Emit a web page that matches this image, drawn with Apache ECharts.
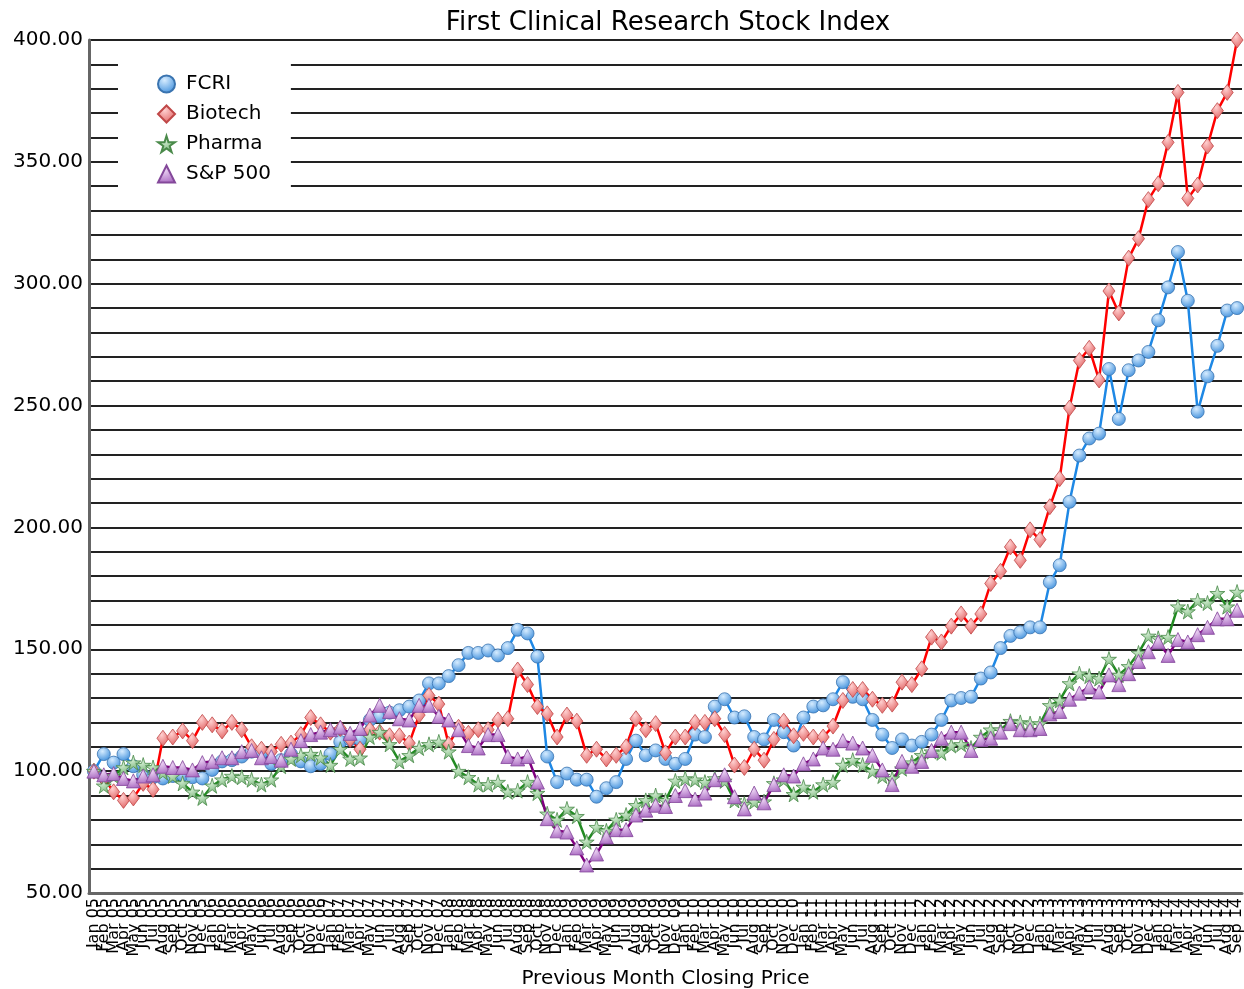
<!DOCTYPE html>
<html>
<head>
<meta charset="utf-8">
<title>First Clinical Research Stock Index</title>
<script src="https://cdn.jsdelivr.net/npm/echarts@6/dist/echarts.min.js"></script>
<style>
  html, body { margin: 0; padding: 0; background: #fff; }
  #myChart { width: 1244px; height: 989px; }
</style>
</head>
<body>
<div id="myChart"></div>
<script>
// month labels, Jan 05 .. Sep 14
const monthNames = ['Jan', 'Feb', 'Mar', 'Apr', 'May', 'Jun', 'Jul', 'Aug', 'Sep', 'Oct', 'Nov', 'Dec'];
const yearLabels = ['05', '06', '07', '08', '09', '10', '11', '12', '13', '14'];
const lastMonth = 'Sep 14';

const fcri = [
    100, 107, 103.5, 107, 102, 98.5, 97.5, 97, 98, 98.5, 97.5, 97,
    100.5, 104, 104.5, 106, 108, 107.5, 103, 104.5, 107, 104, 102, 103,
    107, 112, 113, 113, 121, 122.5, 124, 125, 126.5, 129, 136, 136,
    139, 143.5, 148.5, 148.5, 149.5, 147.5, 150.5, 158, 156.5, 147, 106, 95.5,
    99, 96.5, 96.5, 89.5, 93, 95.5, 105, 112.5, 106.5, 108.5, 105, 103,
    105, 115, 114, 126.5, 129.5, 122, 122.5, 114, 113, 121, 116, 110.5,
    122, 126.5, 127, 129.5, 136.5, 130.5, 129.5, 121, 115, 109.5, 113, 110.5,
    112, 115, 121, 129, 130, 130.5, 138, 140.5, 150.5, 155.5, 157, 159,
    159, 177.5, 184.5, 210.5, 229.5, 236.5, 238.5, 265, 244.5, 264.5, 268.5, 272,
    285, 298.5, 313, 293, 247.5, 262, 274.5, 289, 290
];
const biotech = [
    100, 97, 91.5, 88, 89, 95, 92.5, 113.5, 114, 116.5, 112.5, 120,
    119, 116.5, 120, 117, 110, 109, 108, 111, 111.5, 115, 122, 119,
    116, 117.5, 113, 109, 117, 116, 114.5, 114.5, 111.5, 123, 131, 127.5,
    111, 118, 115.5, 117, 117, 121, 121.5, 141.5, 135.5, 126.5, 123.5, 114,
    123, 120.5, 106.5, 109, 105, 106.5, 110, 121.5, 117, 119.5, 107.5, 114,
    114, 120, 120, 121.5, 115, 102.5, 101.5, 109, 104.5, 113, 120.5, 114.5,
    115.5, 114, 114, 118.5, 129, 133.5, 133.5, 129.5, 127, 127.5, 136.5, 135.5,
    142, 155, 153, 159.5, 164.5, 159.5, 164.5, 177, 182, 192, 186.5, 199,
    195, 208.5, 220, 249, 268.5, 273.5, 260.5, 297, 288, 310.5, 318.5, 334.5,
    341, 358, 378.5, 335, 340.5, 356.5, 371, 378.5, 400
];
const pharma = [
    100, 94, 98, 101.5, 103.5, 102.5, 101.5, 99.5, 98, 95, 91.5, 89,
    94, 96.5, 98, 97.5, 96.5, 94.5, 96.5, 102, 105, 106.5, 107, 105.5,
    102.5, 109, 105, 105.5, 114, 116, 111, 104, 106.5, 109.5, 111, 112,
    108, 100, 97.5, 94.5, 94.5, 95.5, 91.5, 92, 95.5, 91, 82.5, 80,
    84.5, 81.5, 71, 77, 75.5, 80, 82, 86, 88, 90, 88, 96,
    97, 96.5, 95.5, 97, 96, 88, 86.5, 87.5, 87.5, 95, 96.5, 90.5,
    93.5, 91.5, 94.5, 95.5, 102.5, 104.5, 102.5, 100, 98, 97, 101, 103.5,
    106.5, 108, 107.5, 110.5, 111, 109.5, 114, 117, 117, 120.5, 120, 119.5,
    119.5, 127, 129, 136, 140, 139, 138, 146, 139.5, 143, 148.5, 155.5,
    154.5, 155, 167.5, 165.5, 170, 169, 173, 167.5, 173.5
];
const sp500 = [
    100, 98.5, 99, 97, 96, 98, 98.5, 102, 101.5, 101.5, 100.5, 103.5,
    104, 105.5, 105.5, 108, 108.5, 105.5, 106, 104.5, 109, 112.5, 115, 116,
    117, 118, 115.5, 117.5, 123, 127, 124.5, 121.5, 121, 127, 127, 122.5,
    121, 117, 110.5, 109.5, 115, 115, 106, 105, 106, 95.5, 80.5, 75.5,
    75, 68.5, 61.5, 66, 73, 76, 76, 82, 84, 86, 85.5, 90,
    92, 88.5, 91, 96.5, 98.5, 89.5, 84.5, 91, 87, 94.5, 98.5, 98,
    103, 105, 109.5, 109, 112.5, 111.5, 109.5, 106.5, 100.5, 94.5, 104, 102,
    104, 108.5, 113.5, 116, 116, 108.5, 113, 113.5, 116, 119.5, 117, 117,
    117.5, 123.5, 124.5, 129.5, 132, 134.5, 132.5, 139.5, 135.5, 140, 145, 149,
    153, 147.5, 154, 153, 156, 159, 162.5, 162.5, 166
];

// build the month list
let categories = [];
for (let y of yearLabels) {
    for (let m of monthNames) {
        let label = m + ' ' + y;
        categories.push(label);
        if (label === lastMonth) break;
    }
}

const fontName = 'DejaVu Sans';
const starPath = 'path://M50,0 L61,35 L98,35 L68,57 L79,91 L50,70 L21,91 L32,57 L2,35 L39,35 Z';

function shade(light, dark) {
    return new echarts.graphic.RadialGradient(0.4, 0.3, 0.75, [
        { offset: 0, color: light },
        { offset: 1, color: dark }
    ]);
}

function makeSeries(name, data, lineColor, symbol, size, light, dark, border) {
    return {
        name: name,
        type: 'line',
        data: data,
        symbol: symbol,
        symbolSize: size,
        showAllSymbol: true,
        lineStyle: { color: lineColor, width: 2.5 },
        itemStyle: { color: shade(light, dark), borderColor: border, borderWidth: 0.8 },
        emphasis: { disabled: true }
    };
}

let myChart = echarts.init(document.getElementById('myChart'));

let option = {
    animation: false,
    backgroundColor: '#fff',
    textStyle: { fontFamily: fontName, color: '#000' },
    title: {
        text: 'First Clinical Research Stock Index',
        left: 663,
        textAlign: 'center',
        top: 5,
        textStyle: { fontFamily: fontName, fontSize: 26, fontWeight: 'normal', color: '#000' }
    },
    legend: {
        orient: 'vertical',
        left: 118,
        top: 62,
        backgroundColor: '#fff',
        padding: [12, 20, 10, 39],
        itemWidth: 17,
        itemHeight: 17,
        itemGap: 10,
        textStyle: { fontFamily: fontName, fontSize: 20, color: '#000', padding: [0, 0, 0, 6] },
        data: [
            { name: 'FCRI', icon: 'circle' },
            { name: 'Biotech', icon: 'diamond' },
            { name: 'Pharma', icon: starPath },
            { name: 'S&P 500', icon: 'triangle' }
        ]
    },
    grid: { left: 89, right: 2, top: 40, bottom: 96, outerBoundsMode: 'none' },
    xAxis: {
        type: 'category',
        data: categories,
        boundaryGap: true,
        name: 'Previous Month Closing Price',
        nameLocation: 'middle',
        nameGap: 76,
        nameTextStyle: { fontFamily: fontName, fontSize: 20, color: '#000' },
        axisLine: { lineStyle: { color: '#666', width: 3 } },
        axisTick: { show: false },
        axisLabel: { interval: 0, rotate: 90, fontSize: 16, color: '#000', margin: 5 }
    },
    yAxis: {
        type: 'value',
        min: 50,
        max: 400,
        interval: 10,
        axisLine: { show: true, lineStyle: { color: '#666', width: 3 } },
        axisTick: { show: false },
        axisLabel: {
            fontSize: 20,
            color: '#000',
            margin: 6,
            formatter: function (v) { return v % 50 === 0 ? v.toFixed(2) : ''; }
        },
        splitLine: { lineStyle: { color: '#222', width: 1.8 } }
    },
    series: [
        makeSeries('FCRI', fcri, '#1e88e5', 'circle', 13, '#d6ecff', '#3f8fdc', '#3a74b0'),
        makeSeries('Biotech', biotech, '#ff0000', 'diamond', [12, 16], '#ffd0d0', '#e06060', '#c04848'),
        makeSeries('Pharma', pharma, '#228b22', starPath, 15, '#d8f0d8', '#70b070', '#4a8a4a'),
        makeSeries('S&P 500', sp500, '#800080', 'triangle', 14, '#ecd4f4', '#a868c0', '#84489a')
    ]
};

myChart.setOption(option);
</script>
</body>
</html>
